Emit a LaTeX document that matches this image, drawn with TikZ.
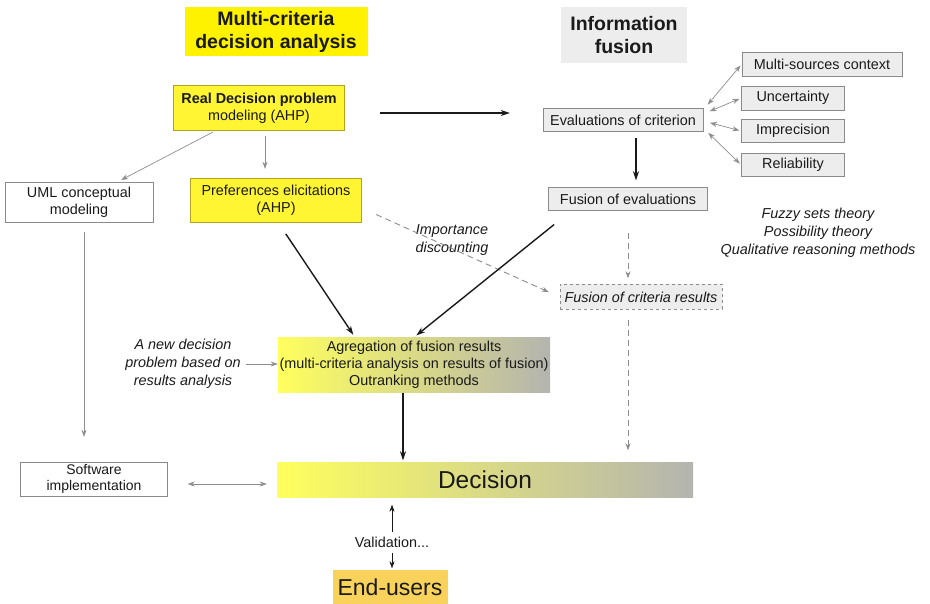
\documentclass[tikz,border=0pt]{standalone}
\usepackage{fontspec}
\setmainfont{Liberation Sans}
\usetikzlibrary{arrows.meta,calc}
\definecolor{ink}{HTML}{1A1A1A}
\definecolor{wire}{HTML}{8C8C8C}
\definecolor{titleyellow}{HTML}{FFF200}
\definecolor{boxyellow}{HTML}{FFF533}
\definecolor{yellowborder}{HTML}{B3A21E}
\definecolor{greyfill}{HTML}{EDEDED}
\definecolor{greyborder}{HTML}{8A8A8A}
\definecolor{gradleft}{HTML}{FFFF5E}
\definecolor{gradright}{HTML}{B4B4B0}
\definecolor{userfill}{HTML}{F9D25C}

\begin{document}
\begin{tikzpicture}[x=1pt, y=-1pt,
  font=\fontsize{14.4}{17}\selectfont,
  >={Stealth[length=9pt, width=6pt]},
  title/.style={fill=#1, text=ink, font=\fontsize{19.5}{23}\selectfont\bfseries,
    align=center, inner sep=0pt, anchor=center},
  ybox/.style={draw=yellowborder, fill=boxyellow, text=ink, align=center,
    inner sep=2pt, anchor=center},
  gbox/.style={draw=greyborder, fill=greyfill, text=ink, align=center,
    inner sep=2pt, anchor=center},
  wbox/.style={draw=greyborder, fill=white, text=ink, align=center,
    inner sep=2pt, anchor=center},
  gradbox/.style={left color=gradleft, right color=gradright, text=ink,
    align=center, inner sep=1pt, anchor=center},
  note/.style={text=ink, font=\fontsize{14.4}{18}\selectfont\itshape, align=center},
  thick flow/.style={->, draw=ink, line width=1.4pt},
  thin flow/.style={->, draw=wire, line width=0.7pt, >={Stealth[length=7pt, width=5pt]}},
  both flow/.style={<->, draw=wire, line width=0.7pt, >={Stealth[length=7pt, width=5pt]}},
  dash flow/.style={->, draw=wire, line width=0.9pt, dash pattern=on 6pt off 4pt,
    >={Stealth[length=7pt, width=5pt]}}
]
\useasboundingbox (0,0) rectangle (930,604);

% headings of the two halves
\node[title=titleyellow, minimum width=183pt, minimum height=49pt] (mcda) at (276,32)
  {Multi-criteria\\decision analysis};
\node[title=greyfill, minimum width=126pt, minimum height=56pt] (fusion) at (624,35)
  {Information\\fusion};

% decision analysis side
\node[ybox, minimum width=171pt, minimum height=45pt] (real) at (259,108)
  {\textbf{Real Decision problem}\\modeling (AHP)};
\node[ybox, minimum width=171pt, minimum height=44pt] (pref) at (276,200)
  {Preferences elicitations\\(AHP)};
\node[wbox, minimum width=148pt, minimum height=40pt] (uml) at (79,202)
  {UML conceptual\\modeling};
\node[wbox, minimum width=147pt, minimum height=34pt, font=\fontsize{14}{16}\selectfont] (soft) at (94,479)
  {Software\\implementation};

% information fusion side
\node[gbox, minimum width=160pt, minimum height=23pt] (eval) at (623,120) {Evaluations of criterion};
\node[gbox, minimum width=160pt, minimum height=24pt] (multi) at (822,64) {Multi-sources context};
\node[gbox, minimum width=103pt, minimum height=24pt] (uncert) at (793,98) {Uncertainty};
\node[gbox, minimum width=103pt, minimum height=23pt] (imprec) at (793,131) {Imprecision};
\node[gbox, minimum width=103pt, minimum height=23pt] (reliab) at (793,165) {Reliability};
\node[gbox, minimum width=159pt, minimum height=23pt] (fusev) at (628,199) {Fusion of evaluations};
\node[gbox, draw=wire, dashed, minimum width=162pt, minimum height=25pt, font=\fontsize{14.4}{17}\selectfont\itshape] (fcrit) at (641,297)
  {Fusion of criteria results};
\node[note] (theories) at (818,233)
  {Fuzzy sets theory\\Possibility theory\\Qualitative reasoning methods};

% aggregation and decision
\node[gradbox, minimum width=272pt, minimum height=55pt] (agreg) at (414,365)
  {Agregation of fusion results\\(multi-criteria analysis on results of fusion)\\Outranking methods};
\node[gradbox, minimum width=416pt, minimum height=35pt, font=\fontsize{24.5}{28}\selectfont] (decision) at (485,480) {Decision};
\node[note] (newdec) at (183,364) {A new decision\\problem based on\\results analysis};
\node[note] (discount) at (452,240) {Importance\\discounting};
\node[text=ink] (valid) at (392,542) {Validation...};
\node[fill=userfill, text=ink, font=\fontsize{23}{26}\selectfont, minimum width=115pt, minimum height=35pt, inner sep=0pt] (users) at (390,587) {End-users};

% connectors
\draw[thick flow, shorten <=35pt, shorten >=33pt] ([yshift=-5pt]real.east) -- ([yshift=7pt]eval.west);
\draw[thin flow, shorten <=3pt, shorten >=4pt] (real) -- (uml);
\draw[thin flow, shorten <=5pt, shorten >=9pt] ([xshift=6pt]real.south) -- ([xshift=-11pt]pref.north);
\draw[thick flow, shorten <=6pt, shorten >=7pt] ([xshift=13pt]eval.south) -- ([xshift=8pt]fusev.north);
\foreach \target/\sy in {multi/10, uncert/6, imprec/-1, reliab/-8}
  \draw[both flow, shorten <=7pt, shorten >=2pt] ([yshift=\sy pt]eval.east) -- (\target.west);
\draw[dash flow, shorten <=22pt, shorten >=6pt] (fusev.south) -- ([xshift=-13pt]fcrit.north);
\draw[dash flow, shorten <=10pt, shorten >=12pt] ([xshift=-13pt]fcrit.south) -- ([xshift=143pt]decision.north);
\draw[dash flow, shorten <=16pt, shorten >=12pt] ([yshift=-8pt]pref.east) -- (fcrit.west);
\draw[thick flow, shorten <=14pt, shorten >=3pt] ([xshift=2pt]pref.south) -- ([xshift=-59pt]agreg.north);
\draw[thick flow, shorten <=22pt, shorten >=3pt] ([xshift=23pt]fusev.south west) -- ([xshift=0pt]agreg.north);
\draw[thin flow, shorten <=2pt] (newdec.east) -- (newdec.east -| agreg.west);
\draw[thick flow, shorten >=2pt] ([xshift=-11pt]agreg.south) -- ([xshift=-82pt]decision.north);
\draw[thin flow, shorten <=10pt, shorten >=25pt] ([xshift=5pt]uml.south) -- ([xshift=-10pt]soft.north);
\draw[both flow, shorten <=20pt, shorten >=10pt] ([yshift=-5pt]soft.east) -- ([yshift=-5pt]soft.east -| decision.west);
\draw[thin flow, draw=ink, line width=0.4pt, shorten <=1pt, shorten >=7pt] (valid.north) -- (valid.north |- decision.south);
\draw[thin flow, draw=ink, line width=0.4pt, shorten <=2pt, shorten >=1pt] (valid.south) -- (valid.south |- users.north);
\end{tikzpicture}
\end{document}
